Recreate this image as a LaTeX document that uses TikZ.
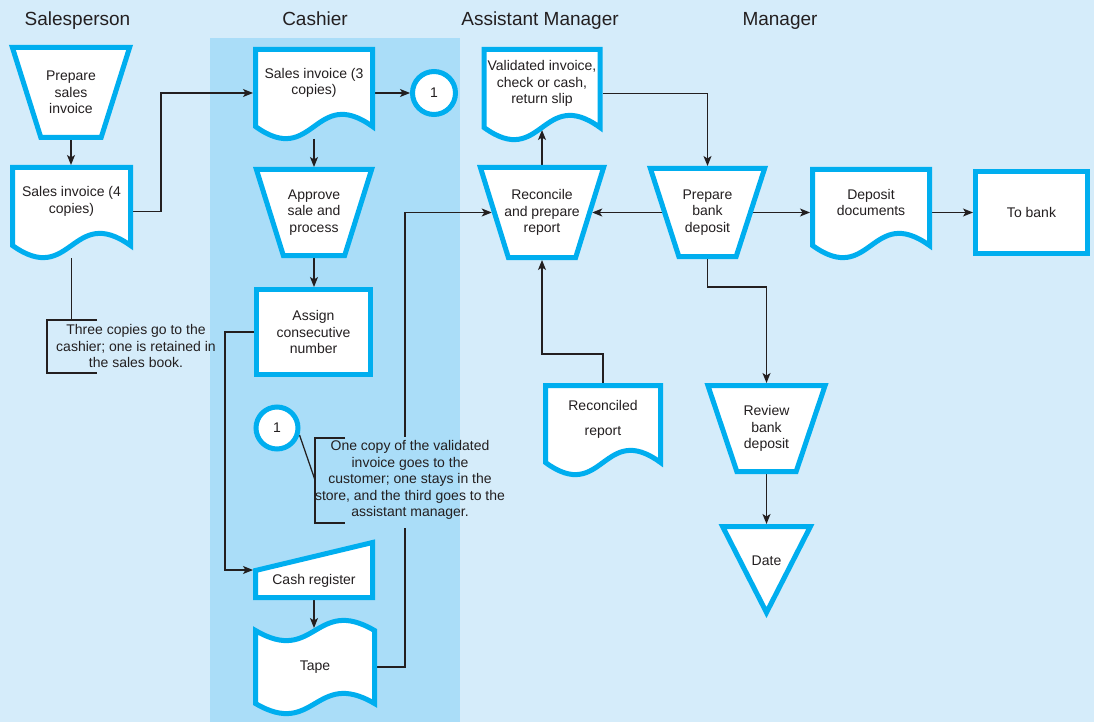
\documentclass[tikz,border=0pt]{standalone}
\usepackage{fontspec}
\setmainfont{Liberation Sans}
\usetikzlibrary{arrows.meta}

\definecolor{bgblue}{RGB}{213,236,250}
\definecolor{laneblue}{RGB}{170,221,248}
\definecolor{flowcyan}{RGB}{0,174,239}
\definecolor{ink}{RGB}{35,31,32}

\newcommand{\bodyfont}{\fontsize{14pt}{16.5pt}\selectfont}
\newcommand{\headfont}{\fontsize{19pt}{22pt}\selectfont}

% outline of a document symbol (wavy bottom) around a slot node
\newcommand{\docoutline}[1]{%
  \path[shapeline] ([shift={(2.5pt,-2.5pt)}]#1.north west) -- ([shift={(-2.5pt,-2.5pt)}]#1.north east)
    -- ([shift={(-2.5pt,12.5pt)}]#1.south east)
    .. controls ([yshift=54.5pt]#1.south) and ([yshift=-29.5pt]#1.south) ..
    ([shift={(2.5pt,12.5pt)}]#1.south west) -- cycle;}
% outline of a manual operation (inverted trapezoid); #2 = half of the slant
\newcommand{\trapoutline}[2]{%
  \path[shapeline] ([shift={(-#2pt+3.4pt,-2.5pt)}]#1.north west) -- ([shift={(#2pt-3.4pt,-2.5pt)}]#1.north east)
    -- ([shift={(-#2pt-1.85pt,2.5pt)}]#1.south east) -- ([shift={(#2pt+1.85pt,2.5pt)}]#1.south west) -- cycle;}
% outline of a plain process box
\newcommand{\boxoutline}[1]{%
  \path[shapeline] ([shift={(2.5pt,-2.5pt)}]#1.north west) rectangle ([shift={(-2.5pt,2.5pt)}]#1.south east);}
% outline of a punched tape
\newcommand{\tapeoutline}[1]{%
  \path[shapeline] ([shift={(2.5pt,-2.5pt)}]#1.north west)
    .. controls ([yshift=-37.5pt]#1.north) and ([yshift=32.5pt]#1.north) .. ([shift={(-2.5pt,-2.5pt)}]#1.north east)
    -- ([shift={(-2.5pt,2.5pt)}]#1.south east)
    .. controls ([yshift=37.5pt]#1.south) and ([yshift=-32.5pt]#1.south) .. ([shift={(2.5pt,2.5pt)}]#1.south west) -- cycle;}

\tikzset{
  shapeline/.style={draw=flowcyan, line width=5pt, fill=white},
  conn/.style={draw=ink, line width=1.25pt},
  arr/.style={conn, -{Stealth[length=10pt,width=8pt,inset=2.5pt]}},
  slot/.style={rectangle, inner sep=0pt, outer sep=0pt},
  ring/.style={circle, inner sep=0pt, outer sep=0pt, minimum size=48pt},
  txt/.style={text=ink, font=\bodyfont, align=center, inner sep=0pt},
  head/.style={text=ink, font=\headfont, anchor=base, inner sep=0pt},
}

\begin{document}
\begin{tikzpicture}[x=1pt, y=-1pt]
  % swimlane backgrounds
  \path[use as bounding box, fill=bgblue] (0,0) rectangle (1094,722);
  \fill[laneblue] (210,38) rectangle (460,722);

  % slots for every symbol
  \node[slot, minimum width=94pt,    minimum height=95pt] (prep)    at (71,92.5) {};
  \node[slot, minimum width=123pt,   minimum height=93pt] (inv4)    at (71.5,211.5) {};
  \node[slot, minimum width=122pt,   minimum height=92pt] (inv3)    at (314,93) {};
  \node[ring] (one) at (434,93) {};
  \node[slot, minimum width=93.5pt,  minimum height=91pt] (approve) at (314,212.5) {};
  \node[slot, minimum width=119pt,   minimum height=90pt] (assign)  at (313.5,332) {};
  \node[ring, minimum size=47pt] (onebis) at (277,428) {};
  \node[slot, minimum width=122pt,   minimum height=60pt] (cash)    at (314,570) {};
  \node[slot, minimum width=124pt,   minimum height=78pt] (tape)    at (315,667) {};
  \node[slot, minimum width=121pt,   minimum height=93pt] (valid)   at (542,93.5) {};
  \node[slot, minimum width=100.5pt, minimum height=95pt] (recon)   at (542,212.5) {};
  \node[slot, minimum width=91pt,    minimum height=93pt] (prepdep) at (707.5,212.5) {};
  \node[slot, minimum width=122pt,   minimum height=91pt] (deposit) at (871,212.5) {};
  \node[slot, minimum width=117pt,   minimum height=86pt] (bank)    at (1031.5,212.5) {};
  \node[slot, minimum width=120pt,   minimum height=92pt] (recrep)  at (603,429) {};
  \node[slot, minimum width=93.5pt,  minimum height=91pt] (review)  at (766.5,428.5) {};
  \node[slot, minimum width=96pt,    minimum height=94pt] (date)    at (766.5,571) {};
  \coordinate (b1) at (71.5,320);
  \coordinate (b2) at (315,480);

  % connectors
  \draw[arr] (prep.south) -- (prep.south |- inv4.north);
  \draw[arr] (inv4.east) -- ++(28pt,0) |- (inv3.west);
  \draw[arr] (inv3.east) -- (inv3.east -| one.west);
  \draw[arr] (inv3.south) -- (inv3.south |- approve.north);
  \draw[arr] (approve.south) -- (approve.south |- assign.north);
  \draw[arr] (assign.west) -- ++(-29pt,0) |- (cash.west);
  \draw[arr] (cash.south) -- (cash.south |- tape.north);
  \draw[arr] (tape.east) -- ++(28pt,0) |- (recon.west);
  \draw[arr] (recon.north) -- ([yshift=10pt]valid.south);
  \draw[arr] (valid.east) -| (prepdep.north);
  \draw[arr] (prepdep.west) -- (recon.east);
  \draw[arr] (prepdep.east) -- (deposit.west);
  \draw[arr] (deposit.east) -- (bank.west);
  \draw[arr] (recrep.north) -- ++(0,29pt) -| (recon.south);
  \draw[arr] (prepdep.south) -- ++(0,-28pt) -| (review.north);
  \draw[arr] (review.south) -- (review.south |- date.north);

  % annotation brackets
  \draw[conn] (inv4.south) -- (b1);
  \draw[conn] (97,320) -- (47,320) -- (47,373) -- (97,373);
  \draw[conn] (onebis.-17) -- (b2);
  \draw[conn] (345,438) -- (315,438) -- (315,523) -- (345,523);
  % the tape line runs behind the second annotation
  \fill[laneblue] (399,437) rectangle (411,528);

  % symbol outlines
  \trapoutline{prep}{15}
  \docoutline{inv4}
  \docoutline{inv3}
  \path[shapeline] (one.center) circle[radius=21.5pt];
  \trapoutline{approve}{14.25}
  \boxoutline{assign}
  \path[shapeline] (onebis.center) circle[radius=21pt];
  \path[shapeline] ([shift={(2.5pt,-30.5pt)}]cash.north west) -- ([shift={(-2.5pt,-2.5pt)}]cash.north east)
    -- ([shift={(-2.5pt,2.5pt)}]cash.south east) -- ([shift={(2.5pt,2.5pt)}]cash.south west) -- cycle;
  \tapeoutline{tape}
  \docoutline{valid}
  \trapoutline{recon}{14.75}
  \trapoutline{prepdep}{15}
  \docoutline{deposit}
  \boxoutline{bank}
  \docoutline{recrep}
  \trapoutline{review}{15.25}
  \path[shapeline] ([shift={(4.1pt,-2.5pt)}]date.north west) -- ([shift={(-4.1pt,-2.5pt)}]date.north east)
    -- ([yshift=5.5pt]date.south) -- cycle;

  % symbol texts
  \node[txt] (prep-t)    at (prep.center) {Prepare\\sales\\invoice};
  \node[txt] (inv4-t)    at ([yshift=10pt]inv4.center) {Sales invoice (4\\copies)};
  \node[txt] (inv3-t)    at ([yshift=10pt]inv3.center) {Sales invoice (3\\copies)};
  \node[txt] (one-t)     at (one.center) {1};
  \node[txt] (approve-t) at (approve.center) {Approve\\sale and\\process};
  \node[txt] (assign-t)  at (assign.center) {Assign\\consecutive\\number};
  \node[txt] (onebis-t)  at (onebis.center) {1};
  \node[txt] (cash-t)    at ([yshift=-11pt]cash.center) {Cash register};
  \node[txt] (tape-t)    at (tape.center) {Tape};
  \node[txt] (valid-t)   at ([yshift=10pt]valid.center) {Validated invoice,\\check or cash,\\return slip};
  \node[txt] (recon-t)   at (recon.center) {Reconcile\\and prepare\\report};
  \node[txt] (prepdep-t) at (prepdep.center) {Prepare\\bank\\deposit};
  \node[txt] (deposit-t) at ([yshift=10pt]deposit.center) {Deposit\\documents};
  \node[txt] (bank-t)    at (bank.center) {To bank};
  \node[txt] (recrep-t)  at ([yshift=10pt]recrep.center) {Reconciled\\[8.5pt]report};
  \node[txt] (review-t)  at (review.center) {Review\\bank\\deposit};
  \node[txt] (date-t)    at ([yshift=10pt]date.center) {Date};

  % annotations
  \node[txt] (note1) at (136,346) {Three copies go to the\\cashier; one is retained in\\the sales book.};
  \node[txt] (note2) at (410,480) {One copy of the validated\\invoice goes to the\\customer; one stays in the\\store, and the third goes to the\\assistant manager.};

  % lane headings
  \node[head] (h1) at (77.5,26) {Salesperson};
  \node[head] (h2) at (315,26) {Cashier};
  \node[head] (h3) at (540,26) {Assistant Manager};
  \node[head] (h4) at (780,26) {Manager};
\end{tikzpicture}
\end{document}
